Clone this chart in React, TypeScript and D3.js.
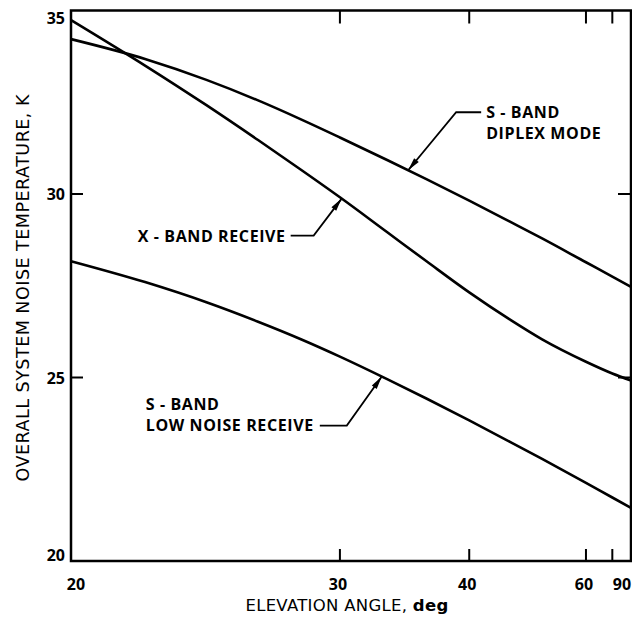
import React from "react";
import * as d3 from "d3";

// Elevation angles (deg) at which the curves were read
const elevations = [20, 22, 24, 26, 28, 30, 33, 36, 40, 45, 50, 60, 70, 90];
// Overall system noise temperature, K
const sBandDiplex = [34.22, 33.68, 33.11, 32.55, 32.02, 31.54, 30.92, 30.4, 29.82, 29.24, 28.79, 28.14, 27.75, 27.47];
const xBandReceive = [34.74, 33.5, 32.42, 31.47, 30.64, 29.91, 28.95, 28.16, 27.32, 26.57, 26.04, 25.43, 25.11, 24.92];
const sBandLowNoise = [28.17, 27.6, 27.05, 26.52, 26.03, 25.57, 24.95, 24.42, 23.83, 23.24, 22.78, 22.13, 21.73, 21.45];

const xTicks = [20, 30, 40, 60, 70, 90];
const xTickLabels = ["20", "30", "40", "60", "", "90"];
const yTicks = [20, 25, 30, 35];
const yTickLabels = ["20", "25", "30", "35"];

const W = 632;
const H = 617;
const M = { left: 71, right: 1, top: 10.5, bottom: 56 };

const airmass = (e: number) => 1 / Math.sin((e * Math.PI) / 180);

export default function App() {
  const x = d3
    .scaleLinear()
    .domain([airmass(20), airmass(90)])
    .range([M.left, W - M.right]);
  const y = d3
    .scaleLinear()
    .domain([20, 35])
    .range([H - M.bottom, M.top]);
  const px = (e: number) => x(airmass(e));

  const line = d3
    .line<number>()
    .x((_, i) => px(elevations[i]))
    .y((v) => y(v))
    .curve(d3.curveMonotoneX);

  const series = [sBandDiplex, xBandReceive, sBandLowNoise];
  const valueAt = (s: number[], e: number) =>
    d3.scaleLinear().domain(elevations.map(px)).range(s)(px(e));

  // annotations: tip on curve (series, elevation), elbow and text offsets relative to tip
  const annotations = [
    { s: 0, e: 34.5, elbow: [48, -58], end: [73, -58], lines: ["S - BAND", "DIPLEX MODE"], tx: 78, ty: -52 },
    { s: 1, e: 30.1, elbow: [-28, 37], end: [-51, 37], lines: ["X - BAND RECEIVE"], tx: -56, ty: 43, anchor: "end" },
    { s: 2, e: 32.6, elbow: [-35, 49], end: [-62, 49], lines: ["S - BAND", "LOW NOISE RECEIVE"], tx: -236, ty: 33 },
  ];

  const labelFont = "'Open Sans', 'DejaVu Sans', sans-serif";
  const titleFont = "'DejaVu Sans', 'Open Sans', sans-serif";
  const x0 = M.left;
  const x1 = W - M.right;
  const y0 = H - M.bottom;
  const y1 = M.top;

  return (
    <svg
      width={W}
      height={H}
      style={{ position: "absolute", left: 0, top: 0, background: "#fff" }}
    >
      {/* frame */}
      <rect x={x0} y={y1} width={x1 - x0} height={y0 - y1} fill="none" stroke="#000" strokeWidth={2.5} />

      {/* x ticks top & bottom (inward) */}
      {xTicks.slice(1, -1).map((t) => (
        <g key={"xt" + t}>
          <line x1={px(t)} x2={px(t)} y1={y0} y2={y0 - 12} stroke="#000" strokeWidth={2} />
          <line x1={px(t)} x2={px(t)} y1={y1} y2={y1 + 13} stroke="#000" strokeWidth={2} />
        </g>
      ))}
      {/* y ticks left & right */}
      {yTicks.slice(1, -1).map((t) => (
        <g key={"yt" + t}>
          <line x1={x0} x2={x0 + 12} y1={y(t)} y2={y(t)} stroke="#000" strokeWidth={2} />
          <line x1={x1} x2={x1 - 13} y1={y(t)} y2={y(t)} stroke="#000" strokeWidth={2} />
        </g>
      ))}

      {/* x tick labels */}
      {xTicks.map((t, i) =>
        xTickLabels[i] ? (
          <text
            key={"xl" + t}
            x={px(t) + (i === 0 ? 5 : i === xTicks.length - 1 ? -9 : -2)}
            y={y0 + 29}
            textAnchor="middle"
            fontFamily={labelFont}
            fontWeight={700}
            fontSize={16}
          >
            {xTickLabels[i]}
          </text>
        ) : null
      )}
      {/* y tick labels */}
      {yTicks.map((t, i) => (
        <text
          key={"yl" + t}
          x={x0 - 6}
          y={y(t) + (i === yTicks.length - 1 ? 13 : i === 0 ? 0 : 6)}
          textAnchor="end"
          fontFamily={labelFont}
          fontWeight={700}
          fontSize={16}
        >
          {yTickLabels[i]}
        </text>
      ))}

      {/* axis titles */}
      <text
        x={347}
        y={611}
        textAnchor="middle"
        fontFamily={titleFont}
        fontSize={16.5}
        letterSpacing={0.3}
      >
        ELEVATION ANGLE, <tspan fontWeight={700}>deg</tspan>
      </text>
      <text
        transform={`translate(29, ${(y0 + y1) / 2 + 2}) rotate(-90)`}
        textAnchor="middle"
        fontFamily={titleFont}
        fontSize={17.5}
        letterSpacing={0.5}
      >
        OVERALL SYSTEM NOISE TEMPERATURE, K
      </text>

      {/* curves */}
      {series.map((s, i) => (
        <path key={"s" + i} d={line(s) || ""} fill="none" stroke="#000" strokeWidth={2.6} />
      ))}

      {/* annotations */}
      {annotations.map((a, i) => {
        const tx = px(a.e);
        const ty = y(valueAt(series[a.s], a.e));
        const ex = tx + a.elbow[0];
        const ey = ty + a.elbow[1];
        const dx = tx - ex;
        const dy = ty - ey;
        const len = Math.hypot(dx, dy);
        const ux = dx / len;
        const uy = dy / len;
        const L = 13;
        const hw = 3;
        const bx = tx - ux * L;
        const by = ty - uy * L;
        const head = `M${tx},${ty} L${bx - uy * hw},${by + ux * hw} L${bx + uy * hw},${by - ux * hw} Z`;
        return (
          <g key={"a" + i}>
            <polyline
              points={`${a.end[0] + tx},${a.end[1] + ty} ${ex},${ey} ${tx},${ty}`}
              fill="none"
              stroke="#000"
              strokeWidth={1.8}
            />
            <path d={head} fill="#000" />
            {a.lines.map((l, j) => (
              <text
                key={j}
                x={tx + a.tx}
                y={ty + a.ty + j * 21}
                textAnchor={(a as any).anchor || "start"}
                fontFamily={labelFont}
                fontWeight={700}
                fontSize={16}
                letterSpacing={0.6}
              >
                {l}
              </text>
            ))}
          </g>
        );
      })}
    </svg>
  );
}
